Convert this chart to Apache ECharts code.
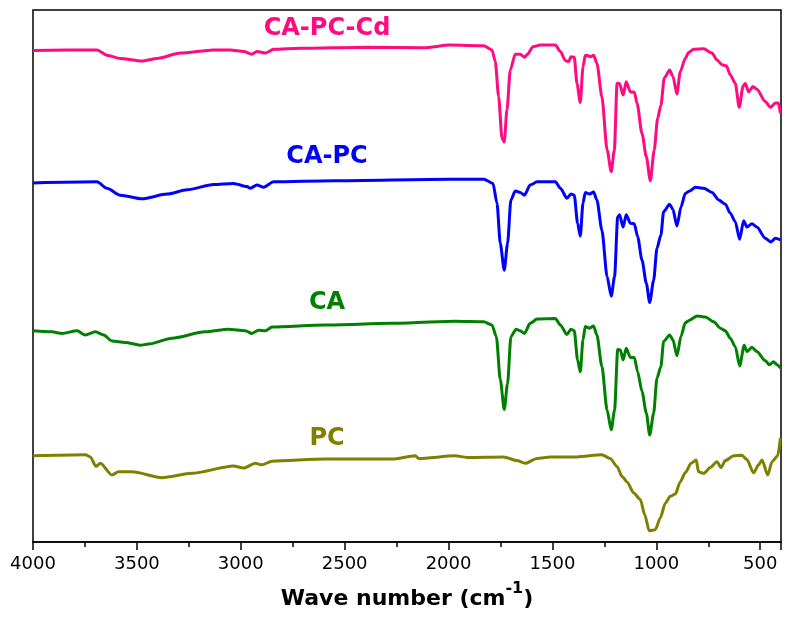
<!DOCTYPE html>
<html>
<head>
<meta charset="utf-8">
<script src="https://cdn.jsdelivr.net/npm/echarts@6/dist/echarts.min.js"></script>
<style>
html,body{margin:0;padding:0;background:#fff;}
#chart{width:791px;height:618px;}
</style>
</head>
<body>
<div id="chart"></div>
<script>
// ---- data (wavenumber cm^-1, transmittance a.u. with vertical offsets) ----
const seriesNames = ['CA-PC-Cd', 'CA-PC', 'CA', 'PC'];
const seriesColors = ['#FF0A80', '#0000FF', '#008000', '#808000'];
const xTickLabels = [4000, 3500, 3000, 2500, 2000, 1500, 1000, 500];
const xMinorTicks = [3750, 3250, 2750, 2250, 1750, 1250, 750];
const xTitle = 'Wave number (cm';
const xTitleSup = '-1';

const caPcCd = [
  [4000,92.4],[3692,92.5],[3644,91.5],[3580,90.9],[3475,90.4],[3403,90.9],[3291,91.9],[3131,92.5],
  [3050,92.5],[2986,92.2],[2946,91.7],[2922,92.2],[2882,91.9],[2842,92.6],[2713,92.8],[2392,93.0],
  [2120,92.9],[1992,93.4],[1831,93.3],[1791,92.5],[1775,90.3],[1759,83.7],[1743,75.9],[1732,75.2],
  [1719,81.2],[1703,88.7],[1679,91.7],[1655,91.7],[1635,91.1],[1620,91.7],[1594,93.1],[1558,93.4],
  [1486,93.4],[1462,92.2],[1438,90.5],[1422,90.3],[1411,91.2],[1395,91.1],[1382,86.2],[1366,82.6],
  [1353,89.3],[1342,91.5],[1326,91.4],[1318,91.2],[1302,91.5],[1286,90.0],[1262,83.7],[1237,73.7],
  [1217,69.6],[1202,73.7],[1189,86.2],[1177,86.2],[1160,84.0],[1145,86.5],[1125,84.6],[1106,84.6],
  [1093,82.5],[1069,76.8],[1048,72.4],[1029,67.9],[1010,73.7],[994,79.6],[978,82.1],[962,87.2],
  [936,88.7],[920,87.5],[901,84.2],[885,88.4],[861,90.9],[845,92.0],[821,92.6],[772,92.7],
  [732,91.9],[708,90.6],[684,89.7],[663,89.5],[644,87.8],[620,86.2],[601,81.7],[583,85.6],
  [572,86.2],[556,84.6],[535,85.6],[516,85.1],[476,82.8],[451,81.7],[427,82.5],[412,82.5],[403,80.6]
];

const caPc = [
  [4000,67.5],[3692,67.7],[3644,66.5],[3580,65.2],[3475,64.5],[3355,65.4],[3259,66.2],[3131,67.2],
  [3035,67.4],[2970,66.8],[2954,66.5],[2922,67.1],[2890,66.7],[2842,67.7],[2555,67.9],[1992,68.2],
  [1831,68.2],[1786,67.4],[1767,63.7],[1751,56.1],[1732,51.1],[1716,56.1],[1700,64.3],[1679,66.0],
  [1655,65.7],[1635,65.2],[1607,67.1],[1574,67.7],[1486,67.7],[1462,66.5],[1430,64.6],[1411,65.4],
  [1395,65.2],[1379,59.9],[1366,57.5],[1353,63.7],[1342,65.7],[1321,65.4],[1302,65.8],[1286,64.3],
  [1262,58.6],[1237,49.9],[1217,46.2],[1201,49.9],[1186,61.1],[1177,61.5],[1160,59.2],[1145,61.5],
  [1125,59.9],[1106,59.8],[1090,57.4],[1069,53.0],[1048,48.6],[1032,45.0],[1013,49.2],[997,55.2],
  [978,57.7],[965,62.1],[936,63.5],[920,62.5],[901,59.4],[881,63.0],[861,65.5],[840,66.0],
  [812,66.7],[772,66.5],[732,65.7],[700,64.3],[668,63.5],[644,61.8],[620,60.2],[599,56.9],
  [580,60.4],[564,59.2],[540,59.8],[516,59.2],[476,57.1],[448,56.4],[427,57.1],[403,56.8]
];

const ca = [
  [4000,39.7],[3909,39.5],[3860,39.2],[3788,39.7],[3748,38.9],[3700,39.5],[3660,38.9],[3620,37.8],
  [3556,37.5],[3484,37.0],[3444,37.2],[3331,38.3],[3171,39.5],[3059,40.0],[2978,39.7],[2946,39.2],
  [2914,39.8],[2882,39.7],[2850,40.4],[2593,40.8],[2272,41.1],[1968,41.5],[1831,41.4],[1791,40.8],
  [1770,38.6],[1751,30.5],[1732,24.9],[1716,29.8],[1700,38.6],[1675,40.0],[1655,39.7],[1635,39.2],
  [1607,41.1],[1574,41.9],[1486,42.0],[1462,40.8],[1430,39.0],[1411,40.0],[1395,39.7],[1379,34.2],
  [1366,32.0],[1353,38.0],[1342,40.5],[1321,40.2],[1302,40.6],[1286,38.9],[1262,33.0],[1237,24.8],
  [1217,21.1],[1201,24.8],[1186,36.2],[1173,36.1],[1160,34.2],[1145,36.4],[1125,34.7],[1106,34.7],
  [1090,32.0],[1069,28.3],[1048,24.2],[1032,20.1],[1013,24.2],[997,30.8],[978,33.0],[965,37.7],
  [936,38.9],[920,38.0],[901,35.0],[881,38.7],[861,41.2],[840,41.7],[804,42.5],[764,42.3],
  [724,41.4],[692,40.2],[668,39.7],[644,38.3],[620,36.7],[599,33.1],[577,37.0],[564,35.8],
  [540,36.6],[516,35.8],[476,34.1],[455,33.3],[436,33.9],[419,33.3],[403,32.7]
];

const pc = [
  [4000,16.2],[3748,16.4],[3724,16.0],[3697,14.2],[3676,14.8],[3620,12.6],[3588,13.2],[3523,13.2],
  [3379,12.1],[3235,12.9],[3035,14.3],[2986,13.9],[2930,14.8],[2898,14.5],[2850,15.2],[2593,15.6],
  [2272,15.6],[2160,16.2],[2144,15.7],[1968,16.2],[1911,15.9],[1735,16.0],[1671,15.3],[1631,14.8],
  [1574,15.7],[1510,16.0],[1382,16.0],[1262,16.4],[1222,15.7],[1189,14.2],[1165,12.3],[1141,11.3],
  [1109,9.2],[1077,8.0],[1056,5.1],[1034,2.1],[1005,2.3],[981,4.5],[957,7.3],[933,8.6],
  [909,9.0],[885,11.3],[861,13.0],[833,14.8],[808,15.4],[797,13.2],[772,12.9],[740,14.0],
  [708,15.1],[689,14.0],[668,15.3],[628,16.2],[588,16.3],[564,15.5],[532,13.0],[508,14.5],
  [491,15.4],[464,12.6],[443,15.1],[416,16.2],[403,19.5]
];

// label placement (pixels, layout only)
const labelPos = [[327, 29], [327, 157], [327, 303], [327, 439]];

// ---- chart ----
const allData = [caPcCd, caPc, ca, pc];
const chart = echarts.init(document.getElementById('chart'), null, {renderer: 'canvas'});
const FONT = 'DejaVu Sans';

const option = {
  animation: false,
  backgroundColor: '#ffffff',
  grid: {
    left: 33, right: 10, top: 10, bottom: 76,
    show: true, borderColor: '#000', borderWidth: 1.5, backgroundColor: 'transparent'
  },
  xAxis: [
    {
      type: 'value', position: 'bottom',
      min: -4000, max: -400, interval: 500,
      axisLine: {show: true, lineStyle: {color: '#000', width: 1.5}},
      axisTick: {show: true, length: 8, lineStyle: {color: '#000', width: 1.5}},
      splitLine: {show: false},
      axisLabel: {
        color: '#000', fontFamily: FONT, fontSize: 18, margin: 13,
        formatter: v => xTickLabels.indexOf(-v) >= 0 ? String(-v) : ''
      },
      name: '{a|' + xTitle + '}{b|' + xTitleSup + '}{a|)}',
      nameLocation: 'middle', nameGap: 39,
      nameTextStyle: {
        rich: {
          a: {fontFamily: FONT, fontWeight: 'bold', fontSize: 22, color: '#000', lineHeight: 36},
          b: {fontFamily: FONT, fontWeight: 'bold', fontSize: 16, color: '#000', lineHeight: 12, verticalAlign: 'top'}
        }
      }
    },
    {
      type: 'value', position: 'bottom',
      min: -4000, max: -400, interval: 250,
      axisLine: {show: false},
      axisTick: {show: true, length: 5, lineStyle: {color: '#000', width: 1.5}},
      axisLabel: {show: false},
      splitLine: {show: false}
    }
  ],
  yAxis: {type: 'value', min: 0, max: 100, show: false},
  graphic: seriesNames.map((n, i) => ({
    type: 'text', x: labelPos[i][0], y: labelPos[i][1], z: 100,
    style: {
      text: n, fill: seriesColors[i], font: 'bold 24px "DejaVu Sans"',
      align: 'center', verticalAlign: 'middle'
    }
  })),
  series: allData.map((d, i) => ({
    name: seriesNames[i],
    type: 'line',
    xAxisIndex: 0,
    data: d.map(p => [-p[0], p[1]]),
    showSymbol: false,
    smooth: 0.25,
    smoothMonotone: 'x',
    lineStyle: {color: seriesColors[i], width: 3},
    itemStyle: {color: seriesColors[i]}
  }))
};
chart.setOption(option);
</script>
</body>
</html>
